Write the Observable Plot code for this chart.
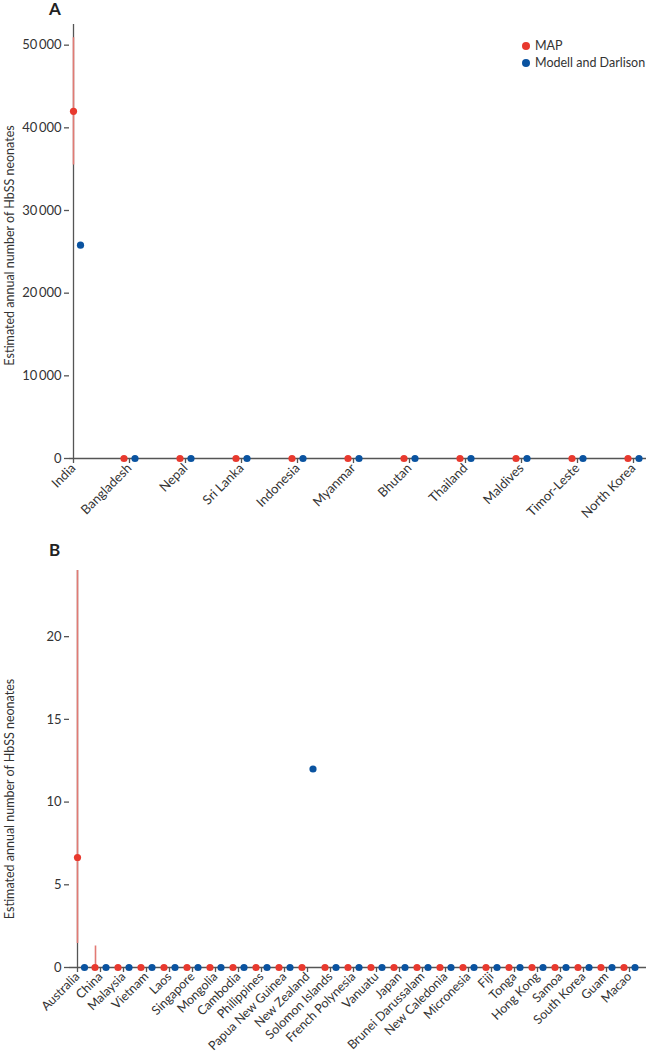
<!DOCTYPE html>
<html><head><meta charset="utf-8">
<script src="https://cdn.jsdelivr.net/npm/d3@7"></script>
<script src="https://cdn.jsdelivr.net/npm/@observablehq/plot@0.6"></script>
<style>
body{margin:0;background:#fff;font-family:Lato,"Open Sans",sans-serif;}
.panel{position:relative;width:646px;}
.tag{position:absolute;font-weight:bold;font-size:17px;color:#222;line-height:1;}
.legend{position:absolute;left:522px;top:37px;font-size:12.5px;color:#333;line-height:17px;}
.legend .dot{display:inline-block;width:8px;height:8px;border-radius:50%;margin-right:5px;vertical-align:-0px;}
</style>
</head><body>
<div id="a" class="panel"></div>
<div id="b" class="panel"></div>
<script>
// ---- Panel A data ----
const countriesA = ["India","Bangladesh","Nepal","Sri Lanka","Indonesia","Myanmar","Bhutan","Thailand","Maldives","Timor-Leste","North Korea"];
const mapA      = [42000, 0, 0, 0, 0, 0, 0, 0, 0, 0, 0];
const mapALow   = [35500, null, null, null, null, null, null, null, null, null, null];
const mapAHigh  = [50900, null, null, null, null, null, null, null, null, null, null];
const modellA   = [25800, 0, 0, 0, 0, 0, 0, 0, 0, 0, 0];
const ticksA    = [0, 10000, 20000, 30000, 40000, 50000];

// ---- Panel B data ----
const countriesB = ["Australia","China","Malaysia","Vietnam","Laos","Singapore","Mongolia","Cambodia","Philippines","Papua New Guinea","New Zealand","Solomon Islands","French Polynesia","Vanuatu","Japan","Brunei Darussalam","New Caledonia","Micronesia","Fiji","Tonga","Hong Kong","Samoa","South Korea","Guam","Macao"];
const mapB      = [6.65, 0, 0, 0, 0, 0, 0, 0, 0, 0, 0, 0, 0, 0, 0, 0, 0, 0, 0, 0, 0, 0, 0, 0, 0];
const mapBLow   = [1.45, 0, null, null, null, null, null, null, null, null, null, null, null, null, null, null, null, null, null, null, null, null, null, null, null];
const mapBHigh  = [24, 1.3, null, null, null, null, null, null, null, null, null, null, null, null, null, null, null, null, null, null, null, null, null, null, null];
const modellB   = [0, 0, 0, 0, 0, 0, 0, 0, 0, 0, 12, 0, 0, 0, 0, 0, 0, 0, 0, 0, 0, 0, 0, 0, 0];
const ticksB    = [0, 5, 10, 15, 20];

const yLabel = "Estimated annual number of HbSS neonates";
const RED = "#e8392e", BLUE = "#0a53a0", CI = "#e27a74", AXIS = "#555";

function rows(countries, map, low, high, modell) {
  return countries.map((c, i) => ({i, country: c, map: map[i], low: low[i], high: high[i], modell: modell[i]}));
}

function panel({countries, data, yDomain, ticks, fmt, height, marginTop, marginBottom, labelDy, xFont, xPad}) {
  const first = data.filter(d => d.i === 0);
  const rest = data.filter(d => d.i !== 0);
  const ci = d => d.low != null;
  return Plot.plot({
    width: 646, height, marginLeft: 69, marginRight: 0, marginTop, marginBottom,
    style: {fontFamily: "Lato, 'Open Sans', sans-serif", fontSize: "13px", color: "#333", background: "#fff", overflow: "visible"},
    x: {type: "point", domain: countries, padding: 0, insetRight: 9},
    y: {domain: yDomain},
    marks: [
      Plot.ruleY([0], {stroke: AXIS, strokeWidth: 1.3}),
      Plot.ruleX([countries[0]], {stroke: AXIS, strokeWidth: 1.3}),
      Plot.axisY({ticks, tickFormat: fmt, tickSize: 5, tickPadding: 3, label: null, stroke: AXIS, strokeWidth: 1.3, fill: "#333", fontSize: 13}),
      Plot.axisX({tickSize: 5, tickRotate: -45, tickPadding: xPad, label: null, stroke: AXIS, strokeWidth: 1.3, fill: "#333", fontSize: xFont}),
      Plot.text([yLabel], {frameAnchor: "left", textAnchor: "middle", rotate: -90, dx: -60, dy: labelDy, fontSize: 12.5, fill: "#333"}),
      // MAP confidence intervals
      Plot.ruleX(first.filter(ci), {x: "country", y1: "low", y2: "high", stroke: CI, strokeWidth: 1.6}),
      Plot.ruleX(rest.filter(ci), {x: "country", y1: "low", y2: "high", stroke: CI, strokeWidth: 1.6, dx: -5}),
      // MAP points
      Plot.dot(first, {x: "country", y: "map", r: 3.6, fill: RED, stroke: null}),
      Plot.dot(rest, {x: "country", y: "map", r: 3.6, fill: RED, stroke: null, dx: -5.5}),
      // Modell and Darlison points
      Plot.dot(first, {x: "country", y: "modell", r: 3.6, fill: BLUE, stroke: null, dx: 7}),
      Plot.dot(rest, {x: "country", y: "modell", r: 3.6, fill: BLUE, stroke: null, dx: 5.5})
    ]
  });
}

const thin = d3.format(",");
const fmtA = d => d === 0 ? "0" : thin(d).replace(/,/g, "\u2009");

const a = document.getElementById("a");
a.appendChild(panel({countries: countriesA, data: rows(countriesA, mapA, mapALow, mapAHigh, modellA),
  yDomain: [0, 52500], ticks: ticksA, fmt: fmtA, height: 530, marginTop: 24, marginBottom: 72, labelDy: 4, xFont: 13, xPad: 2.5}));
const ta = document.createElement("div"); ta.className = "tag"; ta.textContent = "A";
ta.style.left = "49px"; ta.style.top = "0px"; a.appendChild(ta);
const leg = document.createElement("div"); leg.className = "legend";
leg.innerHTML = '<div><span class="dot" style="background:' + RED + '"></span>MAP</div>' +
                '<div><span class="dot" style="background:' + BLUE + '"></span>Modell and Darlison</div>';
a.appendChild(leg);

const b = document.getElementById("b");
b.appendChild(panel({countries: countriesB, data: rows(countriesB, mapB, mapBLow, mapBHigh, modellB),
  yDomain: [0, 24], ticks: ticksB, fmt: d => String(d), height: 523, marginTop: 40, marginBottom: 86, labelDy: 30, xFont: 12.5, xPad: 2}));
const tb = document.createElement("div"); tb.className = "tag"; tb.textContent = "B";
tb.style.left = "49px"; tb.style.top = "11px"; b.appendChild(tb);
</script>
</body></html>
